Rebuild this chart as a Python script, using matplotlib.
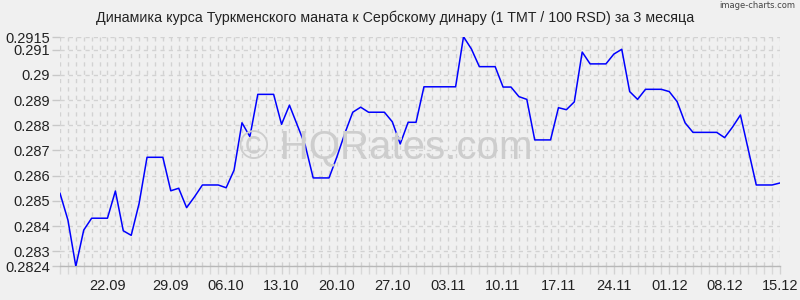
import matplotlib
matplotlib.use("Agg")
import matplotlib.pyplot as plt

values = [
    0.2853, 0.28424, 0.2824, 0.28384, 0.28431, 0.28431, 0.28431, 0.28539, 0.28381, 0.28363,
    0.2849, 0.28673, 0.28673, 0.28673, 0.2854, 0.2855, 0.28473, 0.28516, 0.28563, 0.28563,
    0.28563, 0.28552, 0.28622, 0.2881, 0.28755, 0.28923, 0.28923, 0.28923, 0.28804, 0.2888,
    0.2880, 0.2872, 0.28591, 0.28591, 0.28591, 0.28675, 0.28768, 0.28852, 0.28872, 0.28852,
    0.28852, 0.28852, 0.28814, 0.28726, 0.28812, 0.28812, 0.28953, 0.28953, 0.28953, 0.28953,
    0.28953, 0.29152, 0.29103, 0.29033, 0.29033, 0.29033, 0.28952, 0.28952, 0.28914, 0.28903,
    0.28742, 0.28742, 0.28742, 0.2887, 0.28862, 0.28893, 0.29091, 0.29044, 0.29044, 0.29044,
    0.29083, 0.29102, 0.28934, 0.28903, 0.28943, 0.28943, 0.28943, 0.28934, 0.28894, 0.2881,
    0.28772, 0.28772, 0.28772, 0.28772, 0.28751, 0.28793, 0.28841, 0.28702, 0.28563, 0.28563,
    0.28563, 0.28571,
]
x_idx = list(range(len(values)))

xtick_idx = [6, 14, 21, 28, 35, 42, 49, 56, 63, 70, 77, 84, 91]
xtick_labels = ["22.09", "29.09", "06.10", "13.10", "20.10", "27.10", "03.11",
                "10.11", "17.11", "24.11", "01.12", "08.12", "15.12"]
ytick_vals = [0.2824, 0.283, 0.284, 0.285, 0.286, 0.287, 0.288, 0.289, 0.29, 0.291, 0.2915]
ytick_labels = ["0.2824", "0.283", "0.284", "0.285", "0.286", "0.287", "0.288",
                "0.289", "0.29", "0.291", "0.2915"]
y_min, y_max = 0.2824, 0.2915

title = "Динамика курса Туркменского маната к Сербскому динару (1 TMT / 100 RSD) за 3 месяца"

plt.rcParams['font.family'] = ['Liberation Sans', 'DejaVu Sans']
bg = "#f0f0f0"
grid_c = "#d2d2d2"

fig = plt.figure(figsize=(8, 3), dpi=100, facecolor=bg)
ax = fig.add_axes([60/800, 1-266.3/300, 720/800, (266.3-37.2)/300])
ax.set_facecolor(bg)

# grid
for xi in x_idx:
    ax.axvline(xi, color=grid_c, lw=1, ls=(0, (3, 3)), zorder=1)
for yv in ytick_vals:
    ax.axhline(yv, color=grid_c, lw=1, ls=(0, (3, 3)), zorder=1)

# watermark
fig.text(386/800, 1-148/300, "© HQRates.com", fontsize=29, color="#cdcdcd",
         ha="center", va="center", zorder=2)

ax.plot(x_idx, values, color="#0000ff", lw=1.1, zorder=3)

ax.set_xlim(0, len(values) - 1)
ax.set_ylim(y_min, y_max)

ax.set_yticks(ytick_vals)
ax.set_yticklabels(ytick_labels)
ax.set_xticks(xtick_idx)
ax.set_xticklabels(xtick_labels)
ax.set_xticks(x_idx, minor=True)

ax.tick_params(axis="y", which="major", length=6, width=1, color="#c8c8c8",
               labelsize=10.5, pad=1, labelcolor="#222222")
ax.tick_params(axis="x", which="major", length=6, width=1, color="#d2d2d2",
               labelsize=10.5, pad=3, labelcolor="#222222")
ax.tick_params(axis="x", which="minor", length=6, width=1, color="#d8d8d8")

for s in ["top", "right", "left"]:
    ax.spines[s].set_visible(False)
ax.spines["bottom"].set_color("#b8b8b8")
ax.spines["bottom"].set_linewidth(1)

fig.text(395/800, 1-18/300, title, fontsize=10.3, ha="center", va="center", color="#222222")
fig.text(795/800, 1-6/300, "image-charts.com", fontsize=6, ha="right", va="center",
         color="#444444", family=["DejaVu Sans"])

fig.savefig("out.png", dpi=100, facecolor=bg)
